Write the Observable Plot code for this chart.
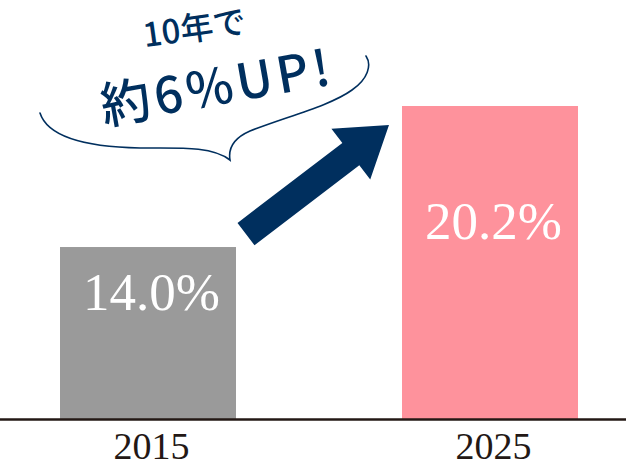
<!DOCTYPE html>
<html><head><meta charset="utf-8">
<script src="https://cdn.jsdelivr.net/npm/d3@7"></script>
<script src="https://cdn.jsdelivr.net/npm/@observablehq/plot@0.6"></script>
<style>
html,body{margin:0;padding:0;background:#fff;}
#chart svg{display:block;}
</style></head><body><div id="chart"></div>
<script>
// ---- data ----
const years = ["2015", "2025"];
const rates = [14.0, 20.2];
const rateLabels = ["14.0%", "20.2%"];
const calloutLines = ["10年で", "約6%UP!"];

const data = years.map((year, i) => ({year, rate: rates[i], label: rateLabels[i]}));

const NAVY = "#002f5e";
const base = 6.44;      // visual baseline of the (truncated) value axis
const padInner = 0.486;

// block arrow from the 2015 bar to the 2025 bar, positioned through the scales
function blockArrow(index, scales) {
  const x = scales.x, y = scales.y;
  const step = x(years[1]) - x(years[0]);
  let bw = typeof x.bandwidth === "function" ? x.bandwidth() : x.bandwidth;
  if (!(bw > 0)) bw = step * (1 - padInner);
  const T = [x(years[0]) + bw + 10, y(rates[0]) - 13];
  const P = [x(years[1]) - 13, y(rates[1]) + 19];
  const L = Math.hypot(P[0] - T[0], P[1] - T[1]);
  const u = [(P[0] - T[0]) / L, (P[1] - T[1]) / L];
  const n = [-u[1], u[0]];
  const sw = 14, hw = 32, hl = 48;
  const H = [P[0] - u[0] * hl, P[1] - u[1] * hl];
  const pt = (p, k) => [p[0] + n[0] * k, p[1] + n[1] * k];
  const pts = [pt(T, -sw), pt(H, -sw), pt(H, -hw), P, pt(H, hw), pt(H, sw), pt(T, sw)];
  const g = d3.create("svg:g");
  g.append("path").attr("d", "M" + pts.map(p => p.join(",")).join("L") + "Z").attr("fill", NAVY);
  return g.node();
}

// hand-drawn speech-bubble stroke
function bubble() {
  const g = d3.create("svg:g");
  g.append("path")
    .attr("d", "M40,113 C48,138 90,147 140,148 C180,148 212,146 230,160 C228,148 234,138 250,131 C285,117 330,106 352,90 C368,79 372,65 366,56")
    .attr("fill", "none").attr("stroke", NAVY).attr("stroke-width", 1.6).attr("stroke-linecap", "round");
  return g.node();
}

const calloutStyle = {text: d => d, frameAnchor: "top-left", textAnchor: "middle", lineAnchor: "middle",
  fontWeight: 500, fontFamily: "'Noto Sans CJK JP', sans-serif", fill: NAVY};

const chart = Plot.plot({
  width: 626,
  height: 461,
  marginTop: 0,
  marginBottom: 42,
  marginLeft: 0,
  marginRight: 0,
  style: {fontFamily: "'Liberation Serif', serif", background: "#fff"},
  x: {type: "band", domain: years, range: [12, 626], paddingInner: padInner, paddingOuter: 0.139, axis: null},
  y: {domain: [base, 24.86], axis: null},
  color: {domain: years, range: ["#9a9a9a", "#fe929c"]},
  marks: [
    Plot.barY(data, {x: "year", y1: base, y2: "rate", fill: "year"}),
    Plot.ruleY([base], {stroke: "#231815", strokeWidth: 2.5}),
    Plot.axisX({label: null, tickSize: 0, tickPadding: 13, fontSize: 38, color: "#231815", dx: 3}),
    Plot.text(data, {x: "year", y: d => (base + d.rate) / 2, text: "label", fill: "white",
      fontSize: 53, dx: 3, dy: -24, lineAnchor: "bottom"}),
    blockArrow,
    bubble,
    Plot.text([calloutLines[0]], {...calloutStyle, dx: 194, dy: 29, rotate: -8, fontSize: 33}),
    Plot.text([calloutLines[1]], {...calloutStyle, dx: 217, dy: 88, rotate: -10, fontSize: 50})
  ]
});

chart.querySelectorAll("text").forEach(t => {
  if (t.textContent === calloutLines[1]) t.setAttribute("letter-spacing", "4");
});

document.getElementById("chart").appendChild(chart);
</script>
</body></html>
